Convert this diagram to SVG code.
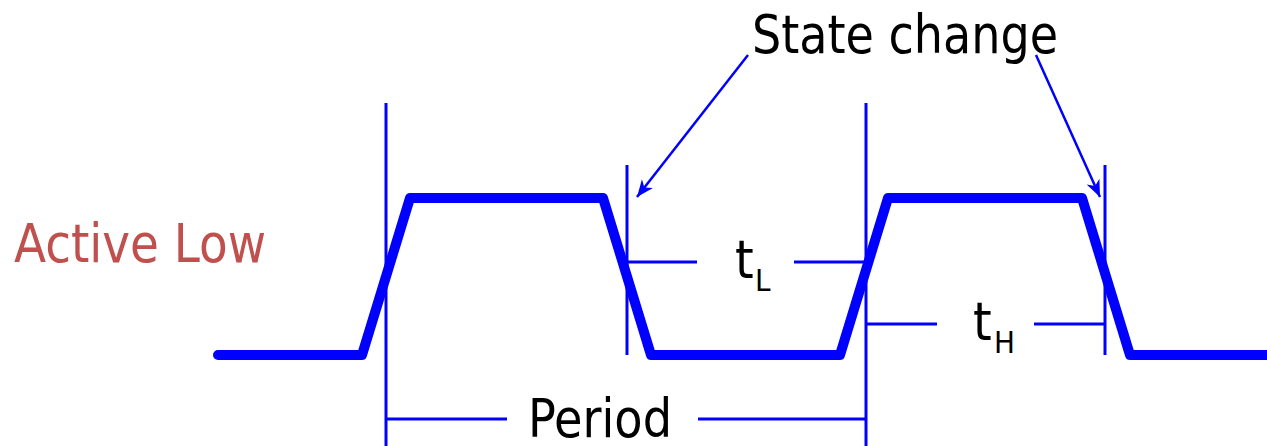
<svg xmlns="http://www.w3.org/2000/svg" width="1267" height="446" viewBox="0 0 1267 446">
<defs>
<style>
.wave{fill:none;stroke:#0000ff;stroke-width:10;stroke-linejoin:round;stroke-linecap:round}
.thin{fill:none;stroke:#0000ff;stroke-width:3}
.arr{fill:none;stroke:#0000ff;stroke-width:2.5}
.txt{font-family:"DejaVu Sans Condensed","DejaVu Sans",sans-serif;font-stretch:condensed;fill:#000}
.big{font-size:53px}
.sub{font-size:31px}
</style>
<marker id="ah" viewBox="-18 -8 19 16" refX="0" refY="0" markerWidth="19" markerHeight="16" markerUnits="userSpaceOnUse" orient="auto">
<path d="M0,0 L-17,-7 L-12,0 L-17,7 Z" fill="#0000ff"/>
</marker>
</defs>
<rect width="1267" height="446" fill="#ffffff"/>
<g id="waveform">
<polyline class="wave" points="218,355 362,355 410,198 603,198 651,355 840,355 888,198 1082,198 1130,355 1272,355"/>
</g>
<g id="markers">
<line class="thin" x1="386" y1="103" x2="386" y2="446"/>
<line class="thin" x1="627" y1="165" x2="627" y2="355"/>
<line class="thin" x1="866" y1="103" x2="866" y2="446"/>
<line class="thin" x1="1105" y1="165" x2="1105" y2="355"/>
</g>
<g id="connectors">
<line class="thin" x1="627" y1="262" x2="697" y2="262"/>
<line class="thin" x1="794" y1="262" x2="866" y2="262"/>
<line class="thin" x1="866" y1="324" x2="937" y2="324"/>
<line class="thin" x1="1034" y1="324" x2="1105" y2="324"/>
<line class="thin" x1="386" y1="419" x2="507" y2="419"/>
<line class="thin" x1="698" y1="419" x2="866" y2="419"/>
<line class="arr" x1="748" y1="55" x2="637" y2="197" marker-end="url(#ah)"/>
<line class="arr" x1="1036" y1="55" x2="1100" y2="197" marker-end="url(#ah)"/>
</g>
<g id="label-state-change">
<text class="txt big" x="752" y="53" textLength="306" lengthAdjust="spacingAndGlyphs">State change</text>
</g>
<g id="label-active-low">
<text class="txt big" x="14" y="262" style="fill:#c0504d" textLength="252" lengthAdjust="spacingAndGlyphs">Active Low</text>
</g>
<g id="label-tl">
<text class="txt big" x="735" y="278">t</text>
<text class="txt sub" x="755" y="291">L</text>
</g>
<g id="label-th">
<text class="txt big" x="973" y="340">t</text>
<text class="txt sub" x="994" y="353">H</text>
</g>
<g id="label-period">
<text class="txt big" x="528" y="437" textLength="144" lengthAdjust="spacingAndGlyphs">Period</text>
</g>
</svg>
